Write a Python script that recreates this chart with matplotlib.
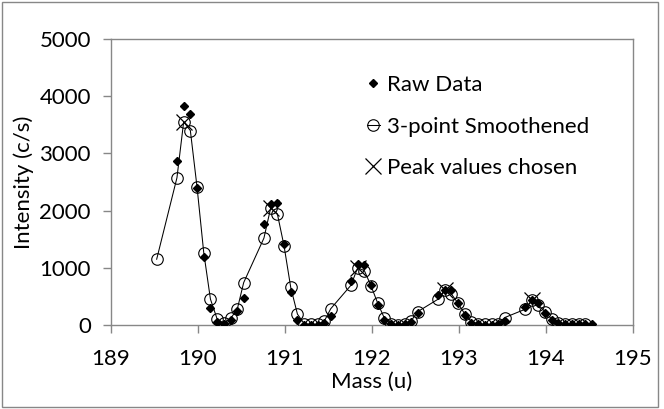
import matplotlib
matplotlib.use("Agg")
import matplotlib.pyplot as plt
from matplotlib.patches import Rectangle

plt.rcParams['font.family'] = ['Lato', 'DejaVu Sans']

# ---- data ----
mass_raw = [189.758, 189.835, 189.912, 189.989, 190.066, 190.143, 190.220, 190.297, 190.374, 190.451,
            190.525, 190.758, 190.835, 190.912, 190.989, 191.066, 191.143, 191.220, 191.297, 191.374, 191.451,
            191.525, 191.758, 191.835, 191.912, 191.989, 192.066, 192.143, 192.220, 192.297, 192.374, 192.451,
            192.525, 192.758, 192.835, 192.912, 192.989, 193.066, 193.143, 193.220, 193.297, 193.374, 193.451,
            193.525, 193.758, 193.835, 193.912, 193.989, 194.066, 194.143, 194.220, 194.297, 194.374, 194.451,
            194.525]
intensity_raw = [2872, 3835, 3695, 2390, 1196, 290, 57, 13, 94, 251,
                 464, 1763, 2120, 2125, 1413, 572, 79, 8, 0, 5, 30,
                 150, 776, 1068, 1050, 700, 350, 88, 10, 0, 10, 50,
                 205, 525, 613, 613, 380, 175, 35, 10, 5, 5, 15,
                 70, 310, 445, 380, 205, 88, 29, 10, 10, 10, 10,
                 17]

mass_smooth = [189.525, 189.758, 189.835, 189.912, 189.989, 190.066, 190.143, 190.220, 190.297, 190.374, 190.451,
               190.525, 190.758, 190.835, 190.912, 190.989, 191.066, 191.143, 191.220, 191.297, 191.374, 191.451,
               191.525, 191.758, 191.835, 191.912, 191.989, 192.066, 192.143, 192.220, 192.297, 192.374, 192.451,
               192.525, 192.758, 192.835, 192.912, 192.989, 193.066, 193.143, 193.220, 193.297, 193.374, 193.451,
               193.525, 193.758, 193.835, 193.912, 193.989, 194.066, 194.143, 194.220, 194.297, 194.374, 194.451]
intensity_smooth = [1150, 2574, 3550, 3400, 2411, 1266, 452, 105, 30, 114, 274,
                    741, 1520, 2044, 1944, 1384, 656, 190, 25, 10, 15, 65,
                    283, 695, 1000, 951, 683, 380, 117, 17, 5, 17, 75,
                    233, 450, 615, 543, 380, 193, 58, 17, 10, 12, 25,
                    130, 274, 430, 350, 233, 100, 41, 17, 15, 15, 17]

mass_peak = [189.835, 190.835, 191.835, 192.835, 193.835]
intensity_peak = [3550, 2044, 1000, 615, 430]

x_ticks = [189, 190, 191, 192, 193, 194, 195]
y_ticks = [0, 1000, 2000, 3000, 4000, 5000]

# ---- figure ----
W, H = 664, 409
fig = plt.figure(figsize=(W / 100, H / 100), dpi=100)
ax = fig.add_axes([111 / W, 1 - 325 / H, (633 - 111) / W, (325 - 39) / H])

gray = '#878787'
fs = 16

ax.plot(mass_raw, intensity_raw, linestyle='none', marker='D', ms=4.0,
        color='black', mec='black', zorder=3, label='Raw Data')
ax.plot(mass_smooth, intensity_smooth, color='black', lw=0.75, marker='o', ms=8.3,
        mfc='none', mec='black', mew=0.8, zorder=4, label='3-point Smoothened')
ax.plot(mass_peak, intensity_peak, linestyle='none', marker='x', ms=11,
        color='black', mew=0.9, zorder=5, label='Peak values chosen')

ax.set_xlim(189, 195)
ax.set_ylim(0, 5000)
ax.set_xticks(x_ticks)
ax.set_yticks(y_ticks)
ax.set_xticklabels([str(v) for v in x_ticks])
ax.set_yticklabels([str(v) for v in y_ticks])

for s in ax.spines.values():
    s.set_color(gray)
    s.set_linewidth(1.0)
ax.tick_params(axis='both', direction='out', length=5.5, width=1.0, color=gray,
               labelsize=fs, labelcolor='black')
ax.tick_params(axis='y', pad=9)
ax.tick_params(axis='x', pad=12)

ax.set_xlabel('Mass (u)', fontsize=fs, labelpad=2)
ax.set_ylabel('Intensity (c/s)', fontsize=fs, labelpad=4)

leg = ax.legend(loc='upper left', bbox_to_anchor=(366.8 / W, 1 - 75 / H),
                bbox_transform=fig.transFigure, frameon=False, fontsize=fs,
                handlelength=0.6, handletextpad=0.3, borderpad=0,
                labelspacing=0.97, numpoints=1, borderaxespad=0)

fig.add_artist(Rectangle((1.5 / W, 1 - 407 / H), (658 - 1.5) / W, (407 - 1.5) / H,
                         transform=fig.transFigure, fill=False, edgecolor=gray, lw=1.0))

fig.savefig('out.png', dpi=100)
